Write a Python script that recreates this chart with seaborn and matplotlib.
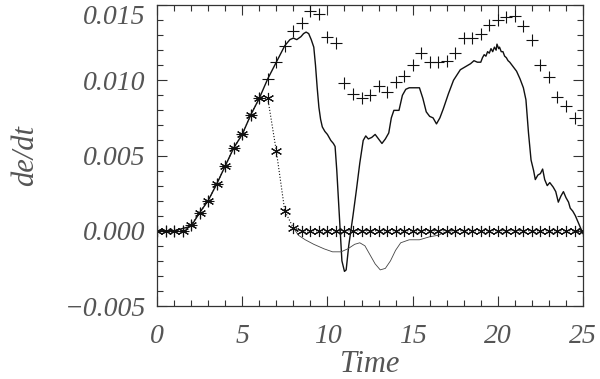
import numpy as np
import pandas as pd
import matplotlib
matplotlib.use("Agg")
import matplotlib.pyplot as plt
import seaborn as sns
from matplotlib.ticker import MultipleLocator

# Série com asteriscos (amostrada a cada 0.5)
t_star = [0.0, 0.5, 1.0, 1.5, 2.0, 2.5, 3.0, 3.5, 4.0, 4.5, 5.0, 5.5, 6.0, 6.5, 7.0, 7.5, 8.0,
          8.5, 9.0, 9.5, 10.0, 10.5, 11.0, 11.5, 12.0, 12.5, 13.0, 13.5, 14.0, 14.5, 15.0, 15.5,
          16.0, 16.5, 17.0, 17.5, 18.0, 18.5, 19.0, 19.5, 20.0, 20.5, 21.0, 21.5, 22.0, 22.5,
          23.0, 23.5, 24.0, 24.5, 25.0]
v_star = [0.0, 0.0, 0.0, 0.0, 0.0004, 0.0012, 0.0020, 0.0031, 0.0043, 0.0055, 0.0064, 0.0077,
          0.0088, 0.0088, 0.0053, 0.0013, 0.0002,
          0.0, 0.0, 0.0, 0.0, 0.0, 0.0, 0.0, 0.0, 0.0, 0.0, 0.0, 0.0, 0.0, 0.0, 0.0,
          0.0, 0.0, 0.0, 0.0, 0.0, 0.0, 0.0, 0.0, 0.0, 0.0, 0.0, 0.0, 0.0, 0.0,
          0.0, 0.0, 0.0, 0.0, 0.0]

# Série com cruzes
t_plus = [0.0, 0.5, 1.0, 1.5, 2.0, 2.5, 3.0, 3.5, 4.0, 4.5, 5.0, 5.5, 6.0, 6.5, 7.0, 7.5, 8.0,
          8.5, 9.0, 9.5, 10.0, 10.5, 11.0, 11.5, 12.0, 12.5, 13.0, 13.5, 14.0, 14.5, 15.0, 15.5,
          16.0, 16.5, 17.0, 17.5, 18.0, 18.5, 19.0, 19.5, 20.0, 20.5, 21.0, 21.5, 22.0, 22.5,
          23.0, 23.5, 24.0, 24.5]
v_plus = [0.0, 0.0, 0.0, 0.0, 0.0004, 0.0012, 0.0020, 0.0031, 0.0043, 0.0055, 0.0064, 0.0077,
          0.0088, 0.0101, 0.0112, 0.0123, 0.0133,
          0.0138, 0.0146, 0.0144, 0.0129, 0.0125, 0.0098, 0.0091, 0.0088, 0.0090, 0.0096, 0.0092,
          0.0099, 0.0103, 0.0110, 0.0118, 0.0112, 0.0112, 0.0113, 0.0118, 0.0128, 0.0128,
          0.0131, 0.0137, 0.0140, 0.0142, 0.0143, 0.0136, 0.0127, 0.0110, 0.0102, 0.0089,
          0.0083, 0.0075]

# Curva principal (linha sólida)
t_main = [0.0, 1.0, 2.0, 2.5, 3.0, 3.5, 4.0, 4.5, 5.0, 5.5, 6.0, 6.5, 7.0, 7.5, 7.8, 8.0, 8.2,
          8.45, 8.6, 8.75, 8.9, 9.05, 9.2, 9.3, 9.4, 9.5, 9.6, 9.7, 9.85, 10.0, 10.2, 10.35,
          10.45, 10.55, 10.7, 10.85, 11.0, 11.1, 11.25, 11.5, 11.7, 11.9, 12.1, 12.25, 12.4,
          12.6, 12.8, 13.0, 13.2, 13.4, 13.6, 13.75, 13.9, 14.2, 14.4, 14.6, 14.8, 15.1, 15.4,
          15.6, 15.8, 16.0, 16.2, 16.4, 16.6, 16.8, 17.1, 17.4, 17.8, 18.1, 18.4, 18.6, 18.8,
          19.0, 19.1, 19.2, 19.3, 19.4, 19.5, 19.6, 19.7, 19.8, 19.9, 19.95, 20.05, 20.1, 20.2,
          20.3, 20.4, 20.5, 20.6, 20.7, 20.9, 21.1, 21.3, 21.5, 21.65, 21.8, 21.95, 22.1, 22.2,
          22.35, 22.5, 22.63, 22.75, 22.9, 23.05, 23.25, 23.4, 23.55, 23.7, 23.85, 24.0, 24.15,
          24.25, 24.4, 24.55, 24.7, 24.85, 25.0]
v_main = [0.0, 0.0, 0.0003, 0.0012, 0.0020, 0.0031, 0.0043, 0.0055, 0.0064, 0.0077, 0.0088,
          0.0101, 0.0112, 0.0123, 0.0127, 0.0128, 0.0127,
          0.0129, 0.0131, 0.0132, 0.0131, 0.0127, 0.0122, 0.0110, 0.0095, 0.0082, 0.0074,
          0.0069, 0.0066, 0.0064, 0.0060, 0.0058,
          0.0056, 0.0040, 0.0010, -0.0020, -0.0027, -0.0026, -0.0010, 0.0010, 0.0027, 0.0045,
          0.0060, 0.0063, 0.0061,
          0.0062, 0.0064, 0.0061, 0.0058, 0.0061, 0.0065, 0.0075, 0.0080, 0.0080, 0.0090,
          0.0094, 0.0095, 0.0095, 0.0095,
          0.0088, 0.0079, 0.0076, 0.0075, 0.0071, 0.0075, 0.0081, 0.0091, 0.0100, 0.0107,
          0.0109, 0.0111, 0.0113, 0.0112,
          0.0112, 0.0115, 0.0117, 0.0116, 0.0119, 0.0118, 0.0121, 0.0119, 0.0122, 0.0120,
          0.0124, 0.0121, 0.0122, 0.0119,
          0.0119, 0.0116, 0.0115, 0.0113, 0.0112, 0.0109, 0.0106, 0.0101, 0.0095, 0.0087,
          0.0065, 0.0047, 0.0040, 0.0034,
          0.0037, 0.0038, 0.0041, 0.0034, 0.0030, 0.0032, 0.0029, 0.0026, 0.0019, 0.0023,
          0.0026, 0.0022, 0.0019,
          0.0015, 0.0013, 0.0010, 0.0006, 0.0002, -0.0002]

# Curva fina abaixo de zero
t_low = [8.0, 8.3, 8.7, 9.2, 9.8, 10.3, 10.8, 11.2, 11.6, 11.9, 12.2, 12.5, 12.8, 13.1, 13.4,
         13.7, 14.0, 14.3, 14.8, 15.4, 16.0, 16.5, 16.9, 17.3]
v_low = [0.0002, -0.0003, -0.0006, -0.0009, -0.0012, -0.0014, -0.0014, -0.0012, -0.0009,
         -0.0008, -0.0010, -0.0016, -0.0022, -0.0026, -0.0025, -0.0020, -0.0013, -0.0008,
         -0.0006, -0.0006, -0.0004, -0.0003, -0.0001, 0.0]

df_star = pd.DataFrame({'t': t_star, 'v': v_star})
df_plus = pd.DataFrame({'t': t_plus, 'v': v_plus})
df_main = pd.DataFrame({'t': t_main, 'v': v_main})
df_low = pd.DataFrame({'t': t_low, 'v': v_low})

sns.set_style("ticks")
plt.rcParams['font.family'] = ['Liberation Serif']
plt.rcParams['xtick.direction'] = 'in'
plt.rcParams['ytick.direction'] = 'in'

fig = plt.figure(figsize=(6.0, 3.79), dpi=100)
ax = fig.add_axes([0.2617, 0.1926, 0.71, 0.7942])

cor = '#111111'
sns.lineplot(data=df_main, x='t', y='v', color=cor, linewidth=1.0, ax=ax)
sns.lineplot(data=df_low, x='t', y='v', color='#444444', linewidth=0.6, ax=ax)
sns.lineplot(data=df_star, x='t', y='v', color=cor, linewidth=0.8, linestyle=':',
             marker=(6, 2, 0), markersize=8, markeredgewidth=0.8, markeredgecolor=cor, ax=ax)
ax.plot(df_plus['t'], df_plus['v'], linestyle='none', marker='+', markersize=9,
        markeredgewidth=0.8, color=cor)

ax.set_xlim(0, 25)
ax.set_ylim(-0.005, 0.015)
ax.xaxis.set_minor_locator(MultipleLocator(1))
ax.yaxis.set_minor_locator(MultipleLocator(0.001))
ax.set_xticks([0, 5, 10, 15, 20, 25])
ax.set_xticklabels(['0', '5', '10', '15', '20', '25'])
ax.set_yticks([-0.005, 0.0, 0.005, 0.010, 0.015])
ax.set_yticklabels(['\u22120.005', '0.000', '0.005', '0.010', '0.015'])

ax.tick_params(which='both', top=True, right=True, colors='#333333', width=0.8)
ax.tick_params(which='major', length=7, pad=8)
ax.tick_params(which='minor', length=4)
ax.tick_params(axis='x', which='major', pad=13)
for lab in ax.get_xticklabels() + ax.get_yticklabels():
    lab.set_fontsize(20)
    lab.set_fontstyle('italic')
    lab.set_color('#555555')
# o rótulo do topo fica abaixo da marca, como no original
ax.get_yticklabels()[-1].set_verticalalignment('top')
for s in ax.spines.values():
    s.set_linewidth(0.9)
    s.set_color('#333333')

ax.set_xlabel('Time', fontsize=22, fontstyle='italic', color='#555555')
ax.set_ylabel('de/dt', fontsize=22, fontstyle='italic', color='#555555')
ax.xaxis.set_label_coords(0.5, -0.145)
ax.yaxis.set_label_coords(-0.275, 0.5)

fig.savefig('out.png', dpi=100)
